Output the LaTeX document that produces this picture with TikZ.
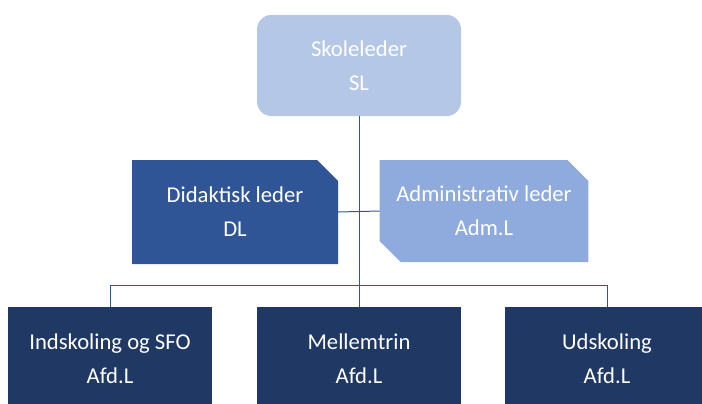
\documentclass[tikz,border=0pt]{standalone}
\usepackage{fontspec}
\setmainfont{Carlito}
\usetikzlibrary{shapes.misc}
\definecolor{slblue}{HTML}{B4C7E7}
\definecolor{dlblue}{HTML}{2F5597}
\definecolor{admblue}{HTML}{8FAADC}
\definecolor{afdblue}{HTML}{203864}
\definecolor{lineblue}{HTML}{2F5597}

\begin{document}
\begin{tikzpicture}
  [
    x=0.75pt, y=-0.75pt,
    box/.style    = {inner sep = 0pt, outer sep = 0pt, text = white, align = center,
                     font = \fontsize{17}{25.5}\selectfont,
                     minimum width = 153pt, minimum height = 77pt},
    sl/.style     = {box, fill = slblue, rounded corners = 11pt, minimum height = 76pt},
    dl/.style     = {box, fill = dlblue, chamfered rectangle, chamfered rectangle angle = 45,
                     chamfered rectangle xsep = 12.5pt, chamfered rectangle corners = north east,
                     minimum width = 154.5pt, minimum height = 78pt},
    adm/.style    = {box, fill = admblue, chamfered rectangle, chamfered rectangle angle = 45,
                     chamfered rectangle xsep = 12.5pt,
                     chamfered rectangle corners = {north east, south west},
                     minimum height = 76.5pt},
    afd/.style    = {box, fill = afdblue},
    conn/.style   = {draw = lineblue, line width = 0.75pt},
  ]

 \clip (0, 0) rectangle (702, 403);

 \node [sl]  (sl)  at (359, 65.5) {Skoleleder\\SL};
 \node [dl]  (dl)  at (235, 212)  {Didaktisk leder\\DL};
 \node [adm] (adm) at (484, 211)  {Administrativ leder\\Adm.L};

 \node [afd] (ind) at (110, 358.5) {Indskoling og SFO\\Afd.L};
 \node [afd] (mel) at (359, 358.5) {Mellemtrin\\Afd.L};
 \node [afd] (uds) at (607, 358.5) {Udskoling\\Afd.L};

 \coordinate (bus) at (359, 285);

 % connectors
 \draw [conn] (sl.south) -- (bus);
 \draw [conn] (dl.east) -- (adm.west);
 \draw [conn]
   (ind.north) |- (bus)
   (uds.north) |- (bus)
   (bus) -- (mel.north);

\end{tikzpicture}
\end{document}
